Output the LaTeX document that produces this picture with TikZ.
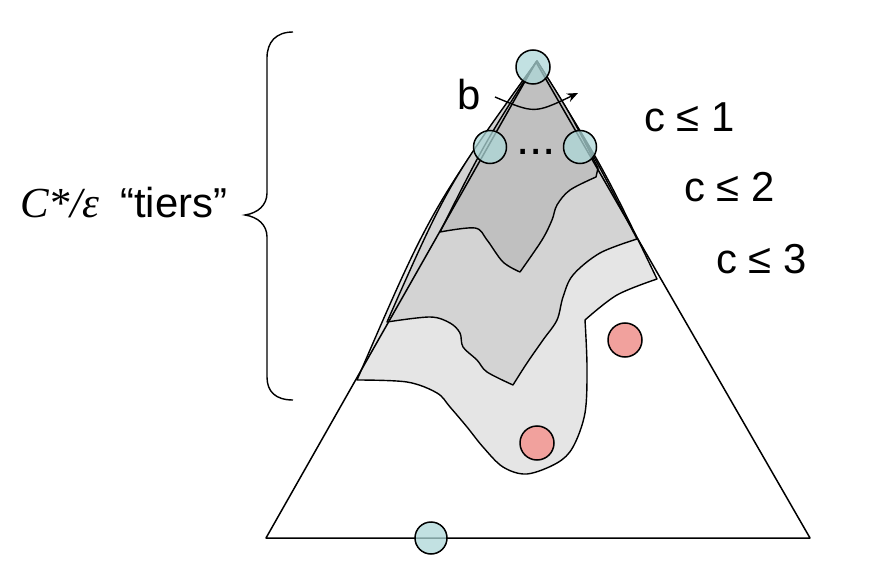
\documentclass[tikz,border=0pt]{standalone}
\usepackage{fontspec}
\setmainfont{Liberation Sans}
\newfontfamily\serifit{Liberation Serif}
\usetikzlibrary{arrows.meta}
\definecolor{dotblue}{HTML}{ADD7D8}
\definecolor{dotred}{HTML}{F1A19D}
\definecolor{tierA}{HTML}{C0C0C0}
\definecolor{tierB}{HTML}{D3D3D3}
\definecolor{tierC}{HTML}{E5E5E5}
\tikzset{
  region/.style={draw=black, line width=1.4bp, line join=round},
  edgeline/.style={draw=black, line width=1.5bp, line join=round},
  bluedot/.style={circle, draw=black, line width=1.5bp, fill=dotblue, fill opacity=0.75, draw opacity=1, minimum size=33bp, inner sep=0pt},
  reddot/.style={circle, draw=black, line width=1.5bp, fill=dotred, minimum size=34bp, inner sep=0pt},
  lbl/.style={inner sep=0pt, anchor=base west, font=\fontsize{42}{42}\selectfont},
}
\begin{document}
\begin{tikzpicture}[x=1bp,y=-1bp]
\useasboundingbox (0,0) rectangle (876,566);
% key points
\coordinate (A) at (537,61);
\coordinate (T) at (536,62);
\coordinate (BL) at (266,538);
\coordinate (BR) at (810,538);
% tier 3 (c <= 3)
\filldraw[region, fill=tierC] (A) .. controls (430,211) .. (357,380)
  -- plot[smooth, tension=0.55] coordinates {(357,380) (407,382) (437,393) (450,407) (467,427) (483,447) (503,467) (527,474) (557,463) (573,447) (585,413) (587,367) (585,320)}
  -- plot[smooth, tension=0.55] coordinates {(585,320) (617,295) (657,279)}
  .. controls (603,167) .. (A) -- cycle;
% tier 2 (c <= 2)
\filldraw[region, fill=tierB] (A) .. controls (448,184) .. (387,322)
  -- plot[smooth, tension=0.55] coordinates {(387,322) (430,317) (450,323) (460,333) (463,347) (477,360) (487,372) (513,385)}
  -- plot[smooth, tension=0.55] coordinates {(513,385) (527,363) (543,340) (557,320) (563,297) (573,275) (600,253) (637,239)}
  .. controls (590,148) .. (A) -- cycle;
% tier 1 (c <= 1)
\filldraw[region, fill=tierA] (A) .. controls (484,144) .. (440,232)
  -- plot[smooth, tension=0.55] coordinates {(440,232) (475,228) (487,240) (503,262) (520,272)}
  -- plot[smooth, tension=0.55] coordinates {(520,272) (542,240) (552,220) (557,205) (570,190) (596,177)}
  -- (598,168) .. controls (570,113) .. (A) -- cycle;
% outer triangle
\draw[edgeline] (T) -- (BL) -- (BR) -- cycle;
% brace
\draw[line width=1.4bp] (293,32) .. controls (276,32) and (267,42) .. (267,58) -- (267,193)
  .. controls (267,205) and (258,213) .. (245,215)
  .. controls (258,217) and (267,225) .. (267,237) -- (267,377)
  .. controls (267,392) and (276,400) .. (293,400);
% circles
\node[bluedot, minimum size=34bp] (top) at (533,67) {};
\node[bluedot] (lft) at (490,147) {};
\node[bluedot] (rgt) at (580,147) {};
\node[bluedot, minimum size=32bp] (bot) at (431,538) {};
\node[reddot] (r1) at (625,340) {};
\node[reddot] (r2) at (537,443) {};
% arc b
\coordinate (bs) at (495,97);
\coordinate (be) at (578,93);
\draw[line width=1.4bp, -{Stealth[length=11bp,width=9bp]}] (bs) .. controls (534.5,113.7) .. (be);
% labels
\node[lbl] (blab) at (457,110) {b};
\node[inner sep=0pt, anchor=base west, font=\fontsize{48}{48}\selectfont] (dots) at (516,154.5) {...};
\node[lbl] (c1) at (644,132) {c ≤ 1};
\node[lbl] (c2) at (684,202) {c ≤ 2};
\node[lbl] (c3) at (716,273) {c ≤ 3};
\node[inner sep=0pt, anchor=base west, font=\fontsize{43}{43}\selectfont\serifit\itshape] (cst) at (20,218) {C*/ε};
\node[inner sep=0pt, anchor=base west, font=\fontsize{42}{42}\selectfont] (tiers) at (120,218) {“tiers”};
\end{tikzpicture}
\end{document}
